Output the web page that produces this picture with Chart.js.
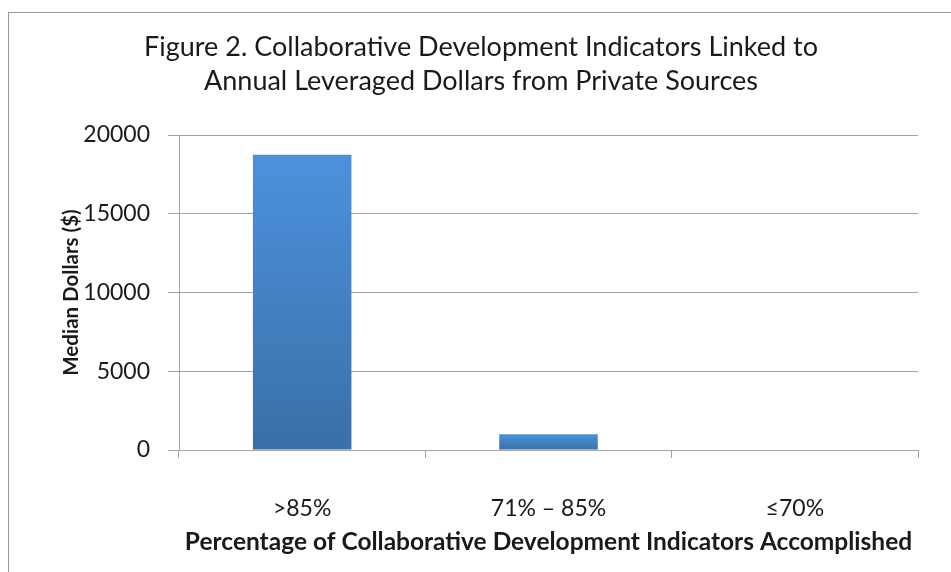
<!DOCTYPE html>
<html>
<head>
<meta charset="utf-8">
<script src="https://cdn.jsdelivr.net/npm/chart.js@4.4.1/dist/chart.umd.min.js"></script>
<style>
  html, body { margin: 0; padding: 0; background: #ffffff; }
  #wrap { width: 951px; height: 572px; position: relative; }
</style>
</head>
<body>
<div id="wrap"><canvas id="grafica"></canvas></div>
<script>
// Datos de la figura
const categorias = ['>85%', '71% – 85%', '≤70%'];
const medianaDolares = [18750, 1000, 0];
const ejeYMin = 0;
const ejeYMax = 20000;
const ejeYPaso = 5000;

const tituloFigura = ['Figure 2. Collaborative Development Indicators Linked to', 'Annual Leveraged Dollars from Private Sources'];
const tituloEjeX = 'Percentage of Collaborative Development Indicators Accomplished';
const tituloEjeY = 'Median Dollars ($)';

const fuente = 'Lato, "Open Sans", sans-serif';
const colorTexto = '#1a1a1a';
const colorGris = '#a3a3a3';

// Degradado vertical para cada barra
function degradadoBarra(context) {
    const chart = context.chart;
    const { ctx, chartArea, scales } = chart;
    if (!chartArea || context.raw === undefined) return '#4584cc';
    const arriba = scales.y.getPixelForValue(context.raw);
    const abajo = scales.y.getPixelForValue(0);
    if (abajo - arriba < 1) return '#4584cc';
    const g = ctx.createLinearGradient(0, arriba, 0, abajo);
    g.addColorStop(0, '#4b92db');
    g.addColorStop(1, '#3a6fa8');
    return g;
}

// Marco gris del gráfico
const marco = {
    id: 'marco',
    beforeDraw(chart) {
        const c = chart.ctx;
        c.save();
        c.strokeStyle = '#9a9a9a';
        c.lineWidth = 1;
        c.strokeRect(8.5, 12.5, chart.width + 20, chart.height + 20);
        c.restore();
    }
};

const ctx = document.getElementById('grafica').getContext('2d');
const chart = new Chart(ctx, {
    type: 'bar',
    data: {
        labels: categorias,
        datasets: [{
            label: 'Median Dollars',
            data: medianaDolares,
            backgroundColor: degradadoBarra,
            borderWidth: 0,
            categoryPercentage: 1,
            barPercentage: 0.4
        }]
    },
    options: {
        responsive: true,
        maintainAspectRatio: false,
        animation: false,
        layout: { padding: { left: 11, right: 0, top: 0, bottom: 0 } },
        scales: {
            x: {
                grid: {
                    display: true,
                    drawOnChartArea: false,
                    drawTicks: true,
                    tickLength: 8,
                    color: colorGris,
                    offset: true
                },
                border: { display: true, color: colorGris, width: 1 },
                ticks: {
                    color: colorTexto,
                    padding: 37,
                    maxRotation: 0,
                    font: { family: fuente, size: 23 }
                },
                title: {
                    display: true,
                    text: tituloEjeX,
                    color: colorTexto,
                    font: { family: fuente, size: 24.5, weight: 'bold' },
                    padding: { top: 0, bottom: 15 }
                },
                afterFit(scale) { scale.height = 122; }
            },
            y: {
                min: ejeYMin,
                max: ejeYMax,
                grid: {
                    color: colorGris,
                    drawTicks: true,
                    tickLength: 11
                },
                border: { display: true, color: colorGris, width: 1 },
                ticks: {
                    stepSize: ejeYPaso,
                    color: colorTexto,
                    padding: 18,
                    font: { family: fuente, size: 23 },
                    callback: (valor) => String(valor)
                },
                title: {
                    display: true,
                    text: tituloEjeY,
                    color: colorTexto,
                    font: { family: fuente, size: 20.5, weight: 'bold' },
                    padding: { top: 48, bottom: 0 }
                },
                afterFit(scale) { scale.width = 168; }
            },
            derecha: {
                position: 'right',
                display: true,
                grid: { display: false },
                border: { display: false },
                ticks: { display: false },
                afterFit(scale) { scale.width = 33; }
            }
        },
        plugins: {
            legend: { display: false },
            tooltip: { enabled: false },
            title: {
                display: true,
                text: tituloFigura,
                color: colorTexto,
                font: { family: fuente, size: 27, weight: 'normal', lineHeight: 1.26 },
                padding: { top: 30, bottom: 37 }
            }
        }
    },
    plugins: [marco]
});
</script>
</body>
</html>
